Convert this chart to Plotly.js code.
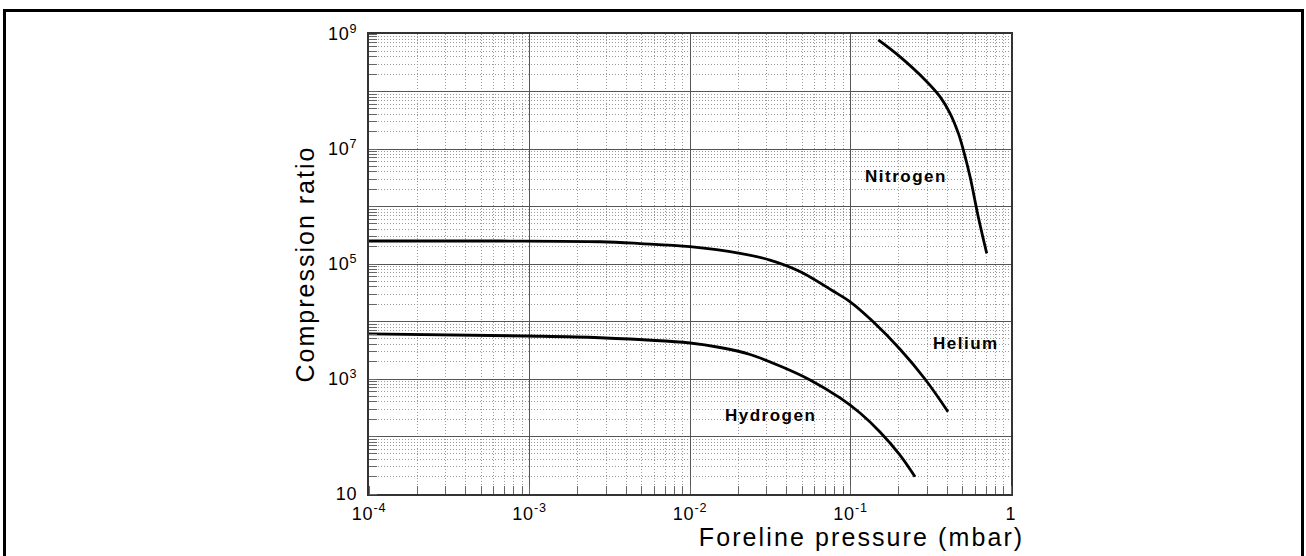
<!DOCTYPE html>
<html>
<head>
<meta charset="utf-8">
<script src="https://cdn.plot.ly/plotly-3.0.1.min.js"></script>
<style>
html,body{margin:0;padding:0;overflow:hidden;background:#fff;}
#chart{position:absolute;left:0;top:0;width:1306px;height:556px;}
#frame{position:absolute;left:3px;top:9px;width:1295px;height:620px;border:3px solid #000;pointer-events:none;}
.ytitle{letter-spacing:2px;}
.annotation-text{letter-spacing:1.5px;}
g.annotation[data-index="3"] .annotation-text{letter-spacing:2.1px;}
.xtick text,.ytick text{letter-spacing:0.8px;}
</style>
</head>
<body>
<div id="chart"></div>
<div id="frame"></div>
<script>
// Helium
const heliumX = [1e-4, 6.55e-4, 2.75e-3, 4.88e-3, 1e-2, 2.05e-2, 3.15e-2, 4.84e-2, 7.78e-2, 0.1, 0.138, 0.203, 0.291, 0.405];
const heliumY = [2.51e5, 2.51e5, 2.44e5, 2.27e5, 2.0e5, 1.53e5, 1.17e5, 7.41e4, 3.39e4, 2.18e4, 1.0e4, 3.33e3, 1.0e3, 2.7e2];
// Hydrogen
const hydrogenX = [1e-4, 9.64e-4, 2.75e-3, 1e-2, 1.54e-2, 2.37e-2, 3.64e-2, 5.6e-2, 8.61e-2, 0.1147, 0.1527, 0.2034, 0.2523];
const hydrogenY = [6070, 5600, 5220, 4230, 3530, 2670, 1680, 962, 468, 256, 120, 47.6, 20];
// Nitrogen
const nitrogenX = [0.149, 0.203, 0.299, 0.361, 0.417, 0.470, 0.505, 0.556, 0.625, 0.706];
const nitrogenY = [7.87e8, 4.03e8, 1.48e8, 8.13e7, 4.18e7, 1.87e7, 9.6e6, 3.3e6, 6.65e5, 1.53e5];

// Tick labels
const xTickVals = [1e-4, 1e-3, 1e-2, 1e-1, 1];
const xTickText = ['10<sup>-4</sup>', '10<sup>-3</sup>', '10<sup>-2</sup>', '10<sup>-1</sup>', '1'];
const yTickVals = [1e1, 1e2, 1e3, 1e4, 1e5, 1e6, 1e7, 1e8, 1e9];
const yTickText = ['10', '', '10<sup>3</sup>', '', '10<sup>5</sup>', '', '10<sup>7</sup>', '', '10<sup>9</sup>'];

// Text labels
const seriesNames = ['Helium', 'Hydrogen', 'Nitrogen'];
const xTitle = 'Foreline pressure (mbar)';
const yTitle = 'Compression ratio';

const FONT = 'Liberation Sans, Arial, Helvetica, sans-serif';
const lineStyle = {color: '#000', width: 2.8, shape: 'spline', smoothing: 1};

const traces = [
  {x: heliumX, y: heliumY, name: seriesNames[0], mode: 'lines', line: lineStyle},
  {x: hydrogenX, y: hydrogenY, name: seriesNames[1], mode: 'lines', line: lineStyle},
  {x: nitrogenX, y: nitrogenY, name: seriesNames[2], mode: 'lines', line: lineStyle}
];

const minorCommon = {
  tickmode: 'linear', dtick: 'D1',
  showgrid: true, gridcolor: '#9a9a9a', griddash: '1px,2px', gridwidth: 1,
  ticks: 'inside', ticklen: 8, tickcolor: '#666', tickwidth: 1
};

const layout = {
  width: 1306, height: 556,
  margin: {l: 369, r: 295, t: 34, b: 62, pad: 0},
  paper_bgcolor: 'rgba(0,0,0,0)', plot_bgcolor: '#fff',
  showlegend: false,
  font: {family: FONT, color: '#000'},
  xaxis: {
    type: 'log', range: [-4, 0],
    tickmode: 'array', tickvals: xTickVals, ticktext: xTickText,
    ticks: '', ticklabelstandoff: 2,
    showgrid: true, gridcolor: '#555', gridwidth: 1,
    showline: true, linecolor: '#333', linewidth: 2, mirror: true,
    zeroline: false,
    tickfont: {family: FONT, size: 18, color: '#000'},
    minor: minorCommon
  },
  yaxis: {
    type: 'log', range: [1, 9],
    tickmode: 'array', tickvals: yTickVals, ticktext: yTickText,
    ticks: '', ticklabelstandoff: 6,
    showgrid: true, gridcolor: '#555', gridwidth: 1,
    showline: true, linecolor: '#333', linewidth: 2, mirror: true,
    zeroline: false,
    tickfont: {family: FONT, size: 18, color: '#000'},
    title: {text: yTitle, font: {family: FONT, size: 25, color: '#000'}, standoff: 6},
    minor: minorCommon
  },
  annotations: [
    {xref: 'paper', yref: 'paper', x: 0.930, y: 0.3261, text: seriesNames[0], showarrow: false,
     xanchor: 'center', yanchor: 'middle', font: {family: FONT, size: 17, color: '#000', weight: 'bold'}},
    {xref: 'paper', yref: 'paper', x: 0.6254, y: 0.1717, text: seriesNames[1], showarrow: false,
     xanchor: 'center', yanchor: 'middle', font: {family: FONT, size: 17, color: '#000', weight: 'bold'}},
    {xref: 'paper', yref: 'paper', x: 0.8364, y: 0.6913, text: seriesNames[2], showarrow: false,
     xanchor: 'center', yanchor: 'middle', font: {family: FONT, size: 17, color: '#000', weight: 'bold'}},
    {xref: 'paper', yref: 'paper', x: 0.7664, y: -0.094, text: xTitle, showarrow: false,
     xanchor: 'center', yanchor: 'middle', font: {family: FONT, size: 25, color: '#000'}}
  ]
};

Plotly.newPlot('chart', traces, layout, {staticPlot: true, displayModeBar: false});
</script>
</body>
</html>
